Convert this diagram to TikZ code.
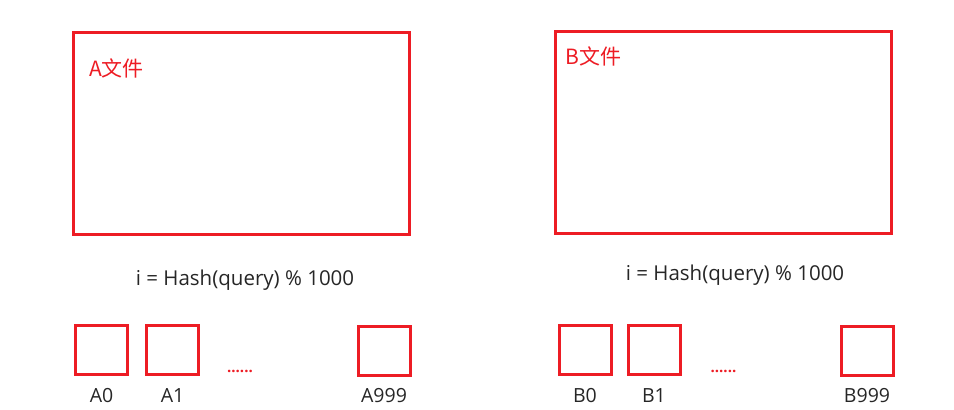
\documentclass[tikz,border=0pt]{standalone}
\usepackage{fontspec}
\setmainfont{Open Sans}
\newfontfamily\cjk{Noto Sans CJK SC}
\usetikzlibrary{positioning}
\definecolor{boxred}{HTML}{ED1C24}

\begin{document}
\begin{tikzpicture}[x=1pt, y=-1pt, node distance=14pt]
	\tikzstyle{filebox} = [draw=boxred, line width=3pt, minimum width=336pt, minimum height=202pt, inner sep=0pt]
	\tikzstyle{bucket} = [draw=boxred, line width=3pt, minimum width=52pt, minimum height=49pt, inner sep=0pt]
	\tikzstyle{filetitle} = [text=boxred, inner sep=0pt, text height=15pt, text depth=3pt, font=\cjk\fontsize{21}{23}\selectfont]
	\tikzstyle{plaintext} = [text=black!85, inner sep=0pt, text height=13pt, text depth=4pt, font=\fontsize{19.5}{21}\selectfont]
	\tikzstyle{hashtext} = [text=black!85, inner sep=0pt, anchor=base, font=\fontsize{20.5}{22}\selectfont]
	\tikzstyle{gapdots} = [text=boxred, inner sep=0pt, anchor=base, font=\bfseries\fontsize{15}{17}\selectfont]

	\useasboundingbox (0,0) rectangle (954,410);

	\begin{scope}
		\path
			node[filebox] (fileA) at (241.5,133.5) {}
			node[filetitle, below right=30pt and 17pt of fileA.north west] (titleA) {A文件}
			node[hashtext] (hashA) at (245,285) {i = Hash(query) \% 1000}

			node[bucket] (a0) at (101.5,350) {}
			node[bucket, right=16pt of a0] (a1) {}
			node[bucket] (a999) at (384,351) {}
			node[gapdots] (dotsA) at (240,372) {......}

			node[plaintext, below=13pt of a0] (la0) {A0}
			node[plaintext, below=13pt of a1] (la1) {A1}
			node[plaintext, below=12pt of a999] (la999) {A999}
		;
	\end{scope}

	\begin{scope}[xshift=481pt]
		\path
			node[filebox] (fileB) at (242,132) {}
			node[filetitle, below right=20pt and 12pt of fileB.north west] (titleB) {B文件}
			node[hashtext] (hashB) at (254,280) {i = Hash(query) \% 1000}

			node[bucket] (b0) at (104,350) {}
			node[bucket, right=of b0] (b1) {}
			node[bucket] (b999) at (386,351) {}
			node[gapdots] (dotsB) at (242.5,372) {......}

			node[plaintext, below=13pt of b0] (lb0) {B0}
			node[plaintext, below=13pt of b1] (lb1) {B1}
			node[plaintext, below=12pt of b999] (lb999) {B999}
		;
	\end{scope}
\end{tikzpicture}
\end{document}
